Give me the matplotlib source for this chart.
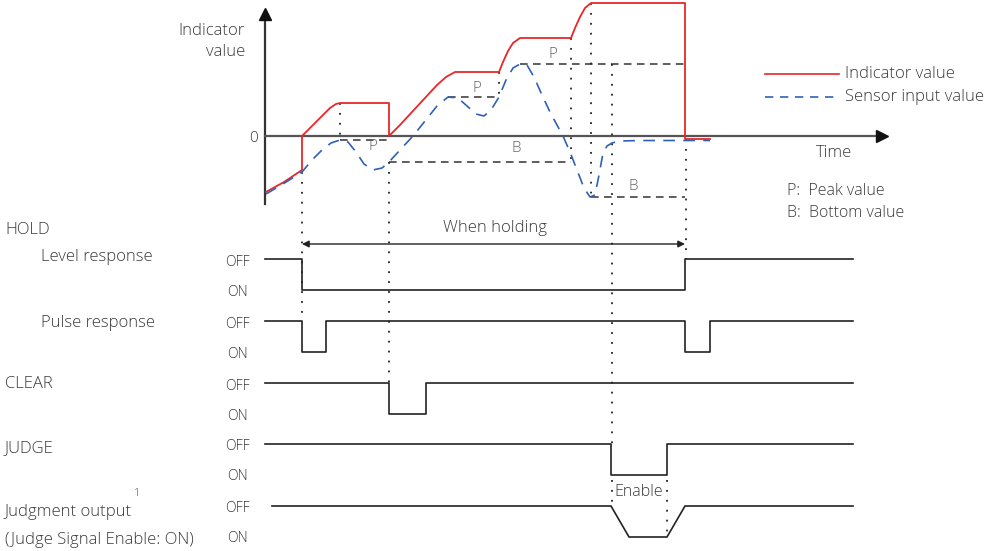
import matplotlib.pyplot as plt

plt.rcParams['font.family'] = ['Open Sans', 'DejaVu Sans']
plt.rcParams['font.weight'] = 'light'

# indicator value (red) and sensor input (blue dashed), time vs level
ind_t = [266, 284, 302, 302, 312, 322, 330, 336, 340, 389, 389, 400, 412, 425, 437,
         446, 455, 499, 503, 508, 513, 520, 571, 575, 580, 585, 591, 685, 685, 710]
ind_v = [192, 182, 170, 136, 126, 116, 108, 104, 103, 103, 136, 125, 112, 98, 85,
         77, 72, 72, 62, 51, 43, 38, 38, 28, 17, 8, 3, 3, 139, 139]

sen_t = [266, 283, 302, 312, 322, 331, 340, 348, 356, 364, 373, 382, 389, 400, 413,
         425, 437, 448, 458, 467, 476, 484, 491, 499, 506, 513, 520, 527, 534, 542,
         550, 557, 563, 570, 577, 584, 590, 595, 599, 603, 607, 612, 620, 640, 710]
sen_v = [194, 184, 172, 160, 150, 143, 140, 142, 152, 164, 170, 168, 162, 150, 136,
         121, 106, 97, 98, 106, 114, 116, 110, 97, 80, 68, 64, 65, 77, 95,
         112, 125, 136, 152, 170, 188, 197, 195, 175, 153, 146, 143, 141, 140.5, 140.5]

# hold levels (peak / bottom) : (start, end, level)
hold_lines = [(340, 389, 140), (448, 499, 97), (520, 685, 64),
              (389, 571, 162), (591, 685, 197)]
hold_labels = [('P', 373, 146), ('P', 477, 89), ('P', 553, 55),
               ('B', 516, 148), ('B', 633, 187)]

# dotted guides : (time, from, to)
guides = [(302, 172, 321), (340, 103, 140), (389, 162, 383), (499, 72, 97),
          (571, 38, 162), (591, 3, 197), (612, 64, 444), (612, 480, 503),
          (667, 480, 537), (686, 139, 259)]

# timing rows
row_names = ['HOLD', 'Level response', 'Pulse response', 'CLEAR', 'JUDGE',
             'Judgment output', '(Judge Signal Enable: ON)']
row_off = [259, 321, 383, 444, 506]
row_gap = 31
level_t = [265, 302, 685, 853]
level_s = [1, 0, 1, 1]
pulse_t = [265, 302, 326, 685, 710, 853]
pulse_s = [1, 0, 1, 0, 1, 1]
clear_t = [265, 389, 426, 853]
clear_s = [1, 0, 1, 1]
judge_t = [265, 611, 667, 853]
judge_s = [1, 0, 1, 1]
out_t = [272, 611, 629, 667, 685, 853]
out_s = [1, 1, 0, 0, 1, 1]

fig = plt.figure(figsize=(9.95, 5.51), dpi=100)
ax = fig.add_axes([0, 0, 1, 1])
ax.set_xlim(0, 995)
ax.set_ylim(551, 0)
ax.axis('off')

txt = '#3a3a3a'
ink = '#222222'
fs = 12

# axes of the upper chart
ax.plot([265, 265], [204, 20], color='#333', lw=1.6)
ax.plot([265], [14], marker='^', ms=9, color='#111')
ax.plot([265, 878], [136, 136], color='#555', lw=1.6)
ax.plot([882], [136], marker='>', ms=9, color='#111')

for t0, t1, lv in hold_lines:
    ax.plot([t0, t1], [lv, lv], color='#333', lw=1.1, ls=(0, (5, 3.5)))
for s, x, y in hold_labels:
    ax.text(x, y, s, fontsize=11, color='#666', ha='center', va='center')

for t, a, b in guides:
    ax.plot([t, t], [a, b], color='#222', lw=1.3, ls=(0, (1, 4.5)))

ax.plot(ind_t, ind_v, color='#e8262a', lw=1.3)
ax.plot(sen_t, sen_v, color='#2f62b5', lw=1.2, ls=(0, (7, 5)))

ax.text(245, 31, 'Indicator', fontsize=fs, color=txt, ha='right', va='center')
ax.text(245, 52, 'value', fontsize=fs, color=txt, ha='right', va='center')
ax.text(254, 139, '0', fontsize=11, color=txt, ha='center', va='center')
ax.text(834, 153, 'Time', fontsize=fs, color=txt, ha='center', va='center')

ax.plot([765, 839], [74, 74], color='#e8262a', lw=1.2)
ax.text(845, 74, 'Indicator value', fontsize=fs, color=txt, va='center')
ax.plot([765, 839], [97, 97], color='#2f62b5', lw=1.2, ls=(0, (5, 4)))
ax.text(845, 97, 'Sensor input value', fontsize=fs, color=txt, va='center')
ax.text(787, 191, 'P:  Peak value', fontsize=11.5, color=txt, va='center')
ax.text(787, 213, 'B:  Bottom value', fontsize=11.5, color=txt, va='center')

# "When holding" span
ax.annotate('', xy=(685, 244), xytext=(302, 244),
            arrowprops=dict(arrowstyle='<|-|>', color='#222', lw=1.0,
                            mutation_scale=10, shrinkA=0, shrinkB=0))
ax.text(495, 228, 'When holding', fontsize=fs, color=txt, ha='center', va='center')

# timing rows
signals = [(level_t, level_s, 'step'), (pulse_t, pulse_s, 'step'),
           (clear_t, clear_s, 'step'), (judge_t, judge_s, 'step'),
           (out_t, out_s, 'line')]
for (t, s, kind), off in zip(signals, row_off):
    ys = [off + (1 - v) * row_gap for v in s]
    if kind == 'step':
        ax.step(t, ys, where='post', color=ink, lw=1.2)
    else:
        ax.plot(t, ys, color=ink, lw=1.2)
    ax.text(237, off + 3, 'OFF', fontsize=10, color=txt, ha='center', va='center')
    ax.text(237, off + row_gap + 2, 'ON', fontsize=10, color=txt, ha='center', va='center')

ax.text(5, 230, row_names[0], fontsize=fs, color=txt, va='center')
ax.text(41, 257, row_names[1], fontsize=fs, color=txt, va='center')
ax.text(41, 323, row_names[2], fontsize=fs, color=txt, va='center')
ax.text(5, 384, row_names[3], fontsize=fs, color=txt, va='center')
ax.text(5, 448, row_names[4], fontsize=fs, color=txt, va='center')
ax.text(5, 512, row_names[5], fontsize=fs, color=txt, va='center')
ax.text(137, 493, '1', fontsize=7.5, color=txt, ha='center', va='center')
ax.text(5, 540, row_names[6], fontsize=fs, color=txt, va='center')
ax.text(639, 492, 'Enable', fontsize=11.5, color=txt, ha='center', va='center')

fig.savefig('out.png', dpi=100)
